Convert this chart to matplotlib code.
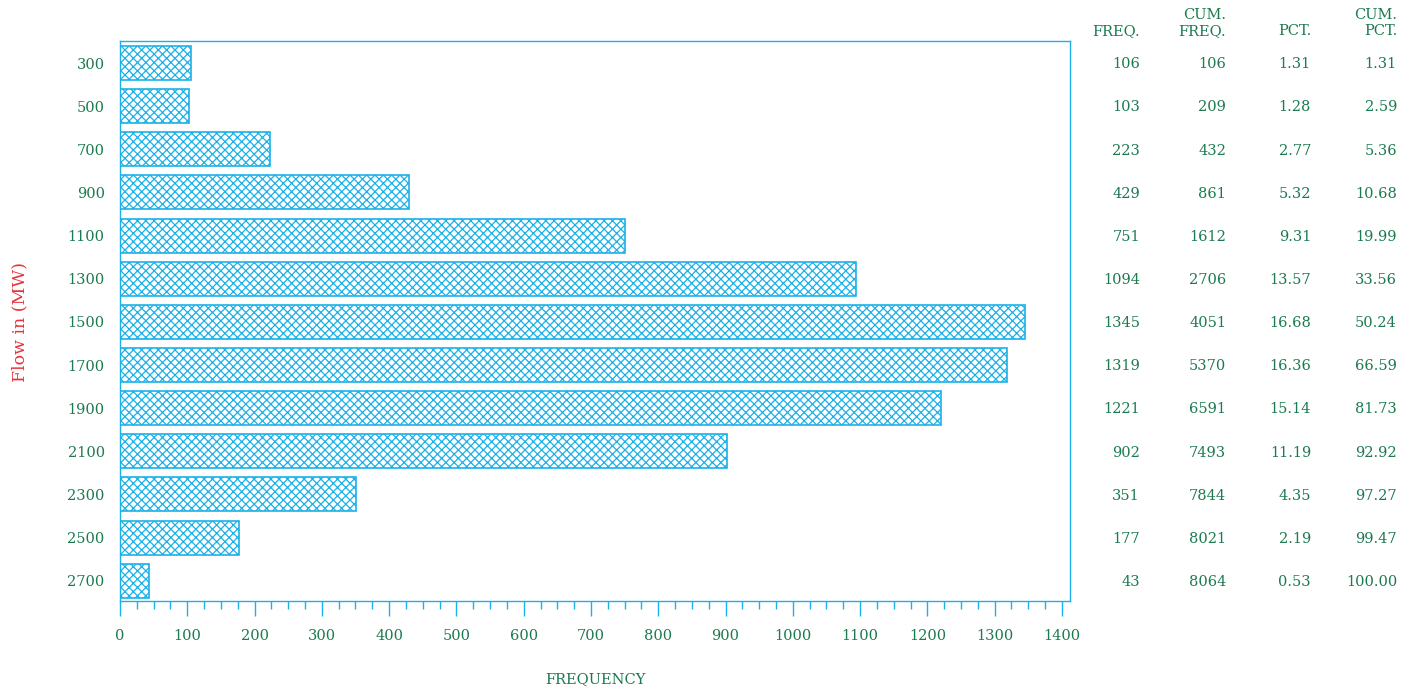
import matplotlib
matplotlib.use("Agg")
import matplotlib.pyplot as plt
from matplotlib.transforms import blended_transform_factory

flow = ["300", "500", "700", "900", "1100", "1300", "1500", "1700", "1900", "2100", "2300", "2500", "2700"]
freq = [106, 103, 223, 429, 751, 1094, 1345, 1319, 1221, 902, 351, 177, 43]
cum_freq = [106, 209, 432, 861, 1612, 2706, 4051, 5370, 6591, 7493, 7844, 8021, 8064]
pct = ["1.31", "1.28", "2.77", "5.32", "9.31", "13.57", "16.68", "16.36", "15.14", "11.19", "4.35", "2.19", "0.53"]
cum_pct = ["1.31", "2.59", "5.36", "10.68", "19.99", "33.56", "50.24", "66.59", "81.73", "92.92", "97.27", "99.47", "100.00"]
xticks = [0, 100, 200, 300, 400, 500, 600, 700, 800, 900, 1000, 1100, 1200, 1300, 1400]

CYAN = "#1BB1E8"
GREEN = "#1B7A4E"
RED = "#E8323C"
FONT = "DejaVu Serif"
plt.rcParams['font.family'] = [FONT]
plt.rcParams['hatch.color'] = CYAN
plt.rcParams['hatch.linewidth'] = 0.9

W, H = 1415, 690
fig = plt.figure(figsize=(W / 100, H / 100), dpi=100)
ax = fig.add_axes([120 / W, 1 - 601 / H, 950 / W, 560 / H])

y = list(range(len(flow)))
ax.barh(y, freq, height=0.79, color="white", edgecolor=CYAN, hatch="xxxx", linewidth=1.2)
ax.set_ylim(12.47, -0.51)
ax.set_xlim(0, 1412)

for s in ax.spines.values():
    s.set_color(CYAN)
    s.set_linewidth(1.0)

ax.set_xticks(xticks)
ax.set_xticks(range(0, 1401, 25), minor=True)
ax.tick_params(axis="x", which="major", direction="out", length=11, width=1, color=CYAN,
               labelcolor=GREEN, labelsize=10.5, pad=9)
ax.tick_params(axis="x", which="minor", direction="out", length=6, width=1, color=CYAN)
ax.set_yticks(y)
ax.set_yticklabels(flow)
ax.tick_params(axis="y", length=0, labelcolor=GREEN, labelsize=10.5, pad=11)

ax.set_xlabel("FREQUENCY", color=GREEN, fontsize=10.5, labelpad=21)
fig.text(20 / W, 1 - 322 / H, "Flow in (MW)", rotation=90, ha="center", va="center",
         color=RED, fontsize=12.5)

tr = blended_transform_factory(fig.transFigure, ax.transData)
cols = [(1140, freq), (1226, cum_freq), (1311, pct), (1397, cum_pct)]
for xr, vals in cols:
    for i, v in enumerate(vals):
        ax.text(xr / W, i + 0.03, str(v), transform=tr, ha="right", va="center",
                color=GREEN, fontsize=10.5, clip_on=False)

hdr = [(1140, "FREQ."), (1226, "CUM.\nFREQ."), (1311, "PCT."), (1397, "CUM.\nPCT.")]
for xr, t in hdr:
    fig.text(xr / W, 1 - 38 / H, t, ha="right", va="bottom", color=GREEN, fontsize=10.5,
             linespacing=1.15, multialignment="right")

fig.savefig("out.png", dpi=100)
